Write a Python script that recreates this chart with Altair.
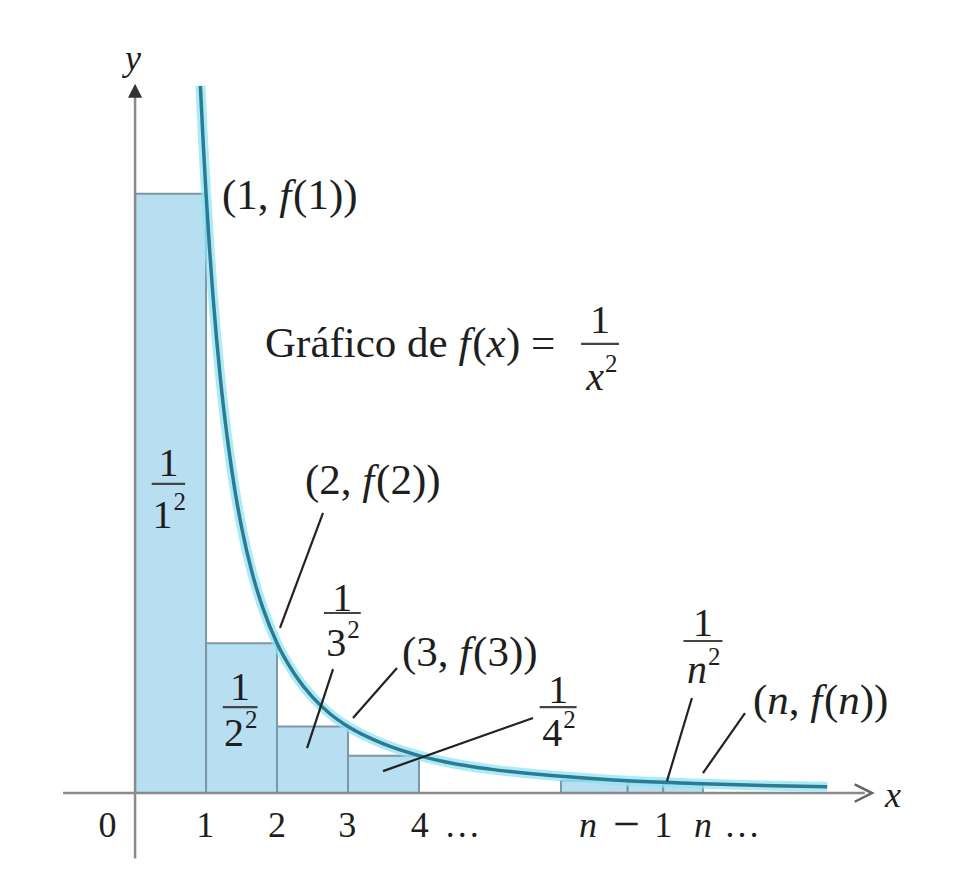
import altair as alt
import pandas as pd

# Rectangles (left edge, right edge, height = 1/k^2)
rect_x0 = [0, 1, 2, 3, 6.0, 6.94, 7.44]
rect_x1 = [1, 2, 3, 4, 6.94, 7.44, 8.0]
rect_h = [1.0, 0.25, 0.111, 0.0625, 0.021, 0.018, 0.0156]

# Curve f(x) = 1/x^2
curve_x = [0.92, 0.96, 1.0, 1.05, 1.1, 1.2, 1.3, 1.4, 1.5, 1.65, 1.8, 2.0, 2.25, 2.5,
           2.75, 3.0, 3.5, 4.0, 4.5, 5.0, 6.0, 7.0, 8.0, 9.0, 9.75]
curve_y = [1.18, 1.085, 1.0, 0.907, 0.826, 0.694, 0.592, 0.510, 0.444, 0.367, 0.309,
           0.25, 0.198, 0.16, 0.132, 0.111, 0.082, 0.0625, 0.049, 0.04, 0.028, 0.02,
           0.0156, 0.0123, 0.0105]

# Axis tick labels (text, x, italic, size)
tick_text = ["0", "1", "2", "3", "4", "…", "n", "−", "1", "n", "…"]
tick_x = [-0.39, 0.99, 2.0, 2.99, 4.01, 4.61, 6.38, 6.92, 7.44, 8.0, 8.55]
tick_it = [False, False, False, False, False, False, True, False, False, True, False]
tick_size = [36, 36, 36, 36, 36, 36, 36, 48, 36, 36, 36]

# Point labels: list of pieces (text, italic, advance in em), left x, centre y
pt_pieces = [
    [("(1, ", False, 1.333), ("f", True, 0.32), ("(1))", False, 0)],
    [("(2, ", False, 1.333), ("f", True, 0.32), ("(2))", False, 0)],
    [("(3, ", False, 1.333), ("f", True, 0.32), ("(3))", False, 0)],
    [("(", False, 0.333), ("n", True, 0.5), (", ", False, 0.5), ("f", True, 0.32),
     ("(", False, 0.333), ("n", True, 0.5), ("))", False, 0)],
    [("Gráfico de ", False, 4.5), ("f", True, 0.32), ("(", False, 0.333), ("x", True, 0.45),
     (") =", False, 0)],
]
pt_x = [1.225, 2.394, 3.761, 8.704, 1.831]
pt_y = [0.9967, 0.521, 0.2337, 0.1536, 0.7496]

# Fractions: numerator, denominator base, exponent, centre x, numerator y, bar y, denominator y
frac_num = ["1", "1", "1", "1", "1", "1"]
frac_base = ["1", "2", "3", "4", "n", "x"]
frac_exp = ["2", "2", "2", "2", "2", "2"]
frac_x = [0.47, 1.48, 2.92, 5.96, 8.0, 6.55]
frac_ny = [0.549, 0.1753, 0.3239, 0.1703, 0.2821, 0.788]
frac_by = [0.516, 0.1436, 0.3005, 0.1436, 0.2538, 0.7496]
frac_dy = [0.4624, 0.0985, 0.2487, 0.0985, 0.2037, 0.6928]
frac_hw = [0.235, 0.245, 0.26, 0.26, 0.275, 0.267]

# Leader lines
lead_x0 = [2.648, 2.789, 3.690, 5.606, 7.845, 8.592]
lead_y0 = [0.4674, 0.207, 0.2087, 0.1252, 0.1586, 0.1336]
lead_x1 = [2.042, 2.423, 3.070, 3.493, 7.493, 8.0]
lead_y1 = [0.2755, 0.0751, 0.1252, 0.0367, 0.02, 0.0334]

XS = alt.Scale(domain=[-1.79, 11.41], nice=False, zero=False)
YS = alt.Scale(domain=[-0.13, 1.31], nice=False, zero=False)
PX = 1 / 71.0      # data units per pixel, x
PY = 1 / 599.0     # data units per pixel, y
FONT = "Liberation Serif"
INK = "#1e1e1e"
LAB_SIZE = 43
FR_SIZE = 40
SUP_SIZE = 25


def X(f):
    return alt.X(f, type="quantitative", scale=XS, axis=None)


def Y(f):
    return alt.Y(f, type="quantitative", scale=YS, axis=None)


rect_df = pd.DataFrame({"x0": rect_x0, "x1": rect_x1, "h": rect_h, "b": 0.0})
curve_df = pd.DataFrame({"x": curve_x, "y": curve_y, "i": range(len(curve_x))})
axis_df = pd.DataFrame({"x0": [-1.014, 0.0], "x1": [10.28, 0.0],
                        "y0": [0.0, -0.109], "y1": [0.0, 1.17]})
lead_df = pd.DataFrame({"x0": lead_x0, "y0": lead_y0, "x1": lead_x1, "y1": lead_y1})
arrow_df = pd.DataFrame({"x": [10.26, 0.0], "y": [0.0, 1.172], "k": ["r", "u"]})

# text rows: x, y, t, italic, size, align
rows = []
for t, x, it, s in zip(tick_text, tick_x, tick_it, tick_size):
    rows.append((x, -0.0551, t, it, s, "center"))
for pieces, x, y in zip(pt_pieces, pt_x, pt_y):
    cx = x
    for t, it, adv in pieces:
        rows.append((cx, y, t, it, LAB_SIZE, "left"))
        cx += adv * LAB_SIZE * PX
bars_rows = []
for n, b, e, x, ny, by, dy, hw in zip(frac_num, frac_base, frac_exp, frac_x, frac_ny,
                                      frac_by, frac_dy, frac_hw):
    rows.append((x, ny, n, False, FR_SIZE, "center"))
    it = b.isalpha()
    rows.append((x + 4 * PX, dy, b, it, FR_SIZE, "right"))
    rows.append((x + 5 * PX, dy + 14 * PY, e, False, SUP_SIZE, "left"))
    bars_rows.append((x - hw, x + hw, by))
rows.append((-0.028, 1.2254, "y", True, 36, "center"))
rows.append((10.676, -0.005, "x", True, 36, "center"))

txt_df = pd.DataFrame(rows, columns=["x", "y", "t", "it", "s", "al"])
bar_df = pd.DataFrame(bars_rows, columns=["bx0", "bx1", "by"])

rects = alt.Chart(rect_df).mark_rect(fill="#b8def2", stroke="#7d97a5", strokeWidth=2).encode(
    x=X("x0"), x2="x1", y=Y("b"), y2="h")

axes = alt.Chart(axis_df).mark_rule(color="#8a8a8a", strokeWidth=2.5).encode(
    x=X("x0"), x2="x1", y=Y("y0"), y2="y1")

halo = alt.Chart(curve_df).mark_line(color="#8fe4f4", strokeWidth=10, opacity=0.75,
                                     interpolate="monotone").encode(
    x=X("x"), y=Y("y"), order="i")
core = alt.Chart(curve_df).mark_line(color="#2e7a92", strokeWidth=3.5,
                                     interpolate="monotone").encode(
    x=X("x"), y=Y("y"), order="i")

arrow_r = alt.Chart(arrow_df[arrow_df.k == "r"]).mark_point(
    shape="M-1,-1L1,0L-1,1", size=300, filled=False, color="#222222", strokeWidth=2.5
).encode(x=X("x"), y=Y("y"))
arrow_u = alt.Chart(arrow_df[arrow_df.k == "u"]).mark_point(
    shape="M-1,1L0,-1L1,1Z", size=200, filled=True, color="#333333", opacity=1
).encode(x=X("x"), y=Y("y"))

leads = alt.Chart(lead_df).mark_rule(color="#222222", strokeWidth=2.2).encode(
    x=X("x0"), x2="x1", y=Y("y0"), y2="y1")

bars = alt.Chart(bar_df).mark_rule(color="#444444", strokeWidth=2.2).encode(
    x=X("bx0"), x2="bx1", y=Y("by"), y2="by")

layers = [rects, axes, halo, core, arrow_r, arrow_u, leads, bars]
for it in (False, True):
    for al in ("left", "center", "right"):
        sub = txt_df[(txt_df.it == it) & (txt_df.al == al)]
        if len(sub) == 0:
            continue
        kw = dict(font=FONT, color=INK, baseline="middle", align=al)
        if it:
            kw["fontStyle"] = "italic"
        layers.append(alt.Chart(sub).mark_text(**kw).encode(
            x=X("x"), y=Y("y"), text="t", size=alt.Size("s:Q", scale=None, legend=None)))

chart = alt.layer(*layers).properties(
    width=937, height=863, padding=0, autosize=alt.AutoSizeParams(type="none"),
    background="white"
).configure_view(stroke=None)

chart.save("out.html", embed_options={"renderer": "svg", "actions": False})
